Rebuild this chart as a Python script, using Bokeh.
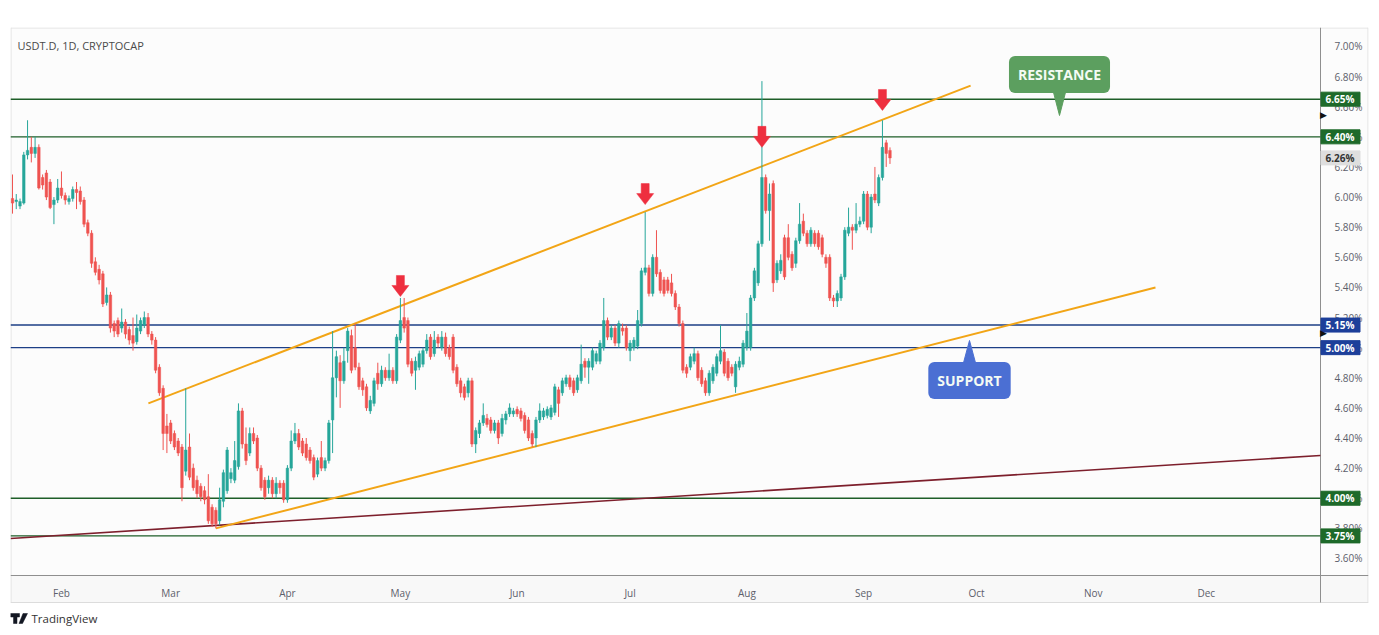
import pandas as pd
from bokeh.plotting import figure
from bokeh.models import (Range1d, FixedTicker, PrintfTickFormatter, DatetimeTickFormatter,
                          Label, ColumnDataSource)
from bokeh.core.properties import value
from bokeh.embed import file_html
from bokeh.resources import INLINE

# ---------------- data ----------------
FIRST_DAY = "2024-01-19"

opens = [5.99, 5.97, 5.94, 5.96, 6.28, 6.33, 6.29, 6.33, 6.13, 6.16, 6.10, 5.95, 5.98, 6.06, 6.01, 5.97, 5.99, 6.05, 6.04, 5.98,
         5.83, 5.76, 5.57, 5.52, 5.49, 5.30, 5.35, 5.16, 5.18, 5.13, 5.17, 5.12, 5.08, 5.04, 5.11, 5.15, 5.20, 5.09, 5.05, 4.87,
         4.73, 4.48, 4.50, 4.43, 4.38, 4.34, 4.18, 4.34, 4.20, 4.12, 4.08, 4.05, 4.01, 3.94, 3.92, 3.85, 3.98, 4.05, 4.13, 4.12,
         4.21, 4.58, 4.36, 4.30, 4.43, 4.40, 4.20, 4.12, 4.07, 4.12, 4.03, 4.10, 4.10, 3.99, 4.20, 4.38, 4.43, 4.38, 4.36, 4.32,
         4.27, 4.16, 4.27, 4.20, 4.25, 4.52, 4.80, 4.90, 4.78, 4.98, 5.08, 5.00, 4.87, 4.78, 4.74, 4.58, 4.63, 4.83, 4.76, 4.85,
         4.80, 4.85, 4.78, 5.05, 5.20, 5.18, 4.91, 4.85, 4.87, 4.89, 4.98, 5.07, 4.96, 5.07, 5.00, 5.07, 5.00, 5.07, 4.87, 4.78,
         4.74, 4.70, 4.78, 4.36, 4.43, 4.50, 4.53, 4.52, 4.45, 4.50, 4.43, 4.52, 4.56, 4.56, 4.59, 4.58, 4.55, 4.52, 4.43, 4.40,
         4.52, 4.54, 4.55, 4.54, 4.57, 4.72, 4.70, 4.76, 4.80, 4.78, 4.72, 4.78, 4.91, 4.87, 4.87, 4.91, 4.91, 5.00, 5.18, 5.07,
         5.13, 5.03, 5.13, 5.13, 4.98, 5.00, 5.01, 5.16, 5.50, 5.53, 5.36, 5.60, 5.50, 5.45, 5.45, 5.43, 5.36, 5.27, 5.16, 4.87,
         4.87, 4.91, 4.96, 4.85, 4.78, 4.70, 4.78, 4.83, 4.91, 4.97, 4.91, 4.87, 4.74, 4.87, 4.89, 5.00, 5.00, 5.33, 5.43, 5.69,
         6.13, 5.91, 6.09, 5.45, 5.51, 5.73, 5.73, 5.62, 5.56, 5.71, 5.84, 5.76, 5.69, 5.76, 5.76, 5.73, 5.60, 5.60, 5.33, 5.31,
         5.33, 5.47, 5.76, 5.80, 5.78, 5.82, 5.84, 6.02, 5.80, 6.02, 5.96, 6.13, 6.36, 6.31]
highs = [6.15, 6.02, 5.99, 6.30, 6.51, 6.40, 6.40, 6.35, 6.15, 6.18, 6.12, 6.00, 6.12, 6.17, 6.03, 6.01, 6.07, 6.10, 6.07, 6.00,
         5.85, 5.78, 5.60, 5.55, 5.51, 5.40, 5.37, 5.18, 5.20, 5.26, 5.19, 5.14, 5.20, 5.22, 5.20, 5.24, 5.23, 5.11, 5.07, 4.89,
         4.75, 4.56, 4.52, 4.45, 4.40, 4.36, 4.73, 4.43, 4.23, 4.15, 4.10, 4.08, 4.16, 3.96, 3.94, 4.07, 4.19, 4.34, 4.20, 4.38,
         4.63, 4.60, 4.47, 4.47, 4.47, 4.42, 4.22, 4.14, 4.15, 4.14, 4.14, 4.12, 4.12, 4.22, 4.45, 4.50, 4.46, 4.40, 4.40, 4.34,
         4.29, 4.27, 4.38, 4.27, 4.52, 5.11, 4.98, 4.95, 5.00, 5.13, 5.12, 5.16, 4.90, 4.80, 4.76, 4.68, 4.80, 4.90, 4.88, 4.87,
         4.96, 4.87, 5.09, 5.33, 5.33, 5.20, 4.93, 4.94, 4.98, 5.00, 5.09, 5.09, 5.11, 5.09, 5.11, 5.10, 5.02, 5.09, 4.89, 4.80,
         4.76, 4.80, 4.80, 4.47, 4.52, 4.63, 4.56, 4.54, 4.52, 4.52, 4.56, 4.58, 4.63, 4.60, 4.61, 4.60, 4.57, 4.54, 4.45, 4.54,
         4.63, 4.60, 4.61, 4.62, 4.76, 4.74, 4.80, 4.82, 4.82, 4.80, 4.82, 5.02, 4.93, 4.93, 5.00, 4.98, 5.05, 5.33, 5.20, 5.15,
         5.15, 5.18, 5.16, 5.15, 5.05, 5.07, 5.25, 5.53, 5.90, 5.55, 5.62, 5.78, 5.52, 5.47, 5.47, 5.49, 5.38, 5.29, 5.18, 4.89,
         4.96, 5.00, 4.98, 4.87, 4.80, 4.85, 4.89, 4.96, 5.15, 4.99, 4.93, 4.89, 4.91, 4.94, 5.05, 5.23, 5.35, 5.53, 5.71, 6.77,
         6.15, 6.09, 6.11, 5.58, 5.62, 5.75, 5.82, 5.64, 5.73, 5.96, 5.89, 5.78, 5.80, 5.78, 5.78, 5.75, 5.62, 5.62, 5.35, 5.38,
         5.49, 5.80, 5.93, 5.82, 5.96, 5.87, 6.04, 6.04, 6.02, 6.20, 6.15, 6.51, 6.38, 6.33]
lows = [5.89, 5.92, 5.92, 5.95, 6.25, 6.23, 6.26, 6.05, 6.05, 5.98, 5.92, 5.82, 5.96, 5.99, 5.95, 5.95, 5.97, 5.92, 5.95, 5.80,
        5.74, 5.53, 5.48, 5.42, 5.27, 5.28, 5.10, 5.07, 5.07, 5.10, 5.06, 5.02, 4.98, 5.02, 5.09, 5.13, 5.07, 5.02, 4.83, 4.68,
        4.32, 4.30, 4.36, 4.32, 4.28, 3.98, 4.15, 4.12, 4.05, 4.00, 3.98, 3.96, 3.83, 3.81, 3.80, 3.82, 3.94, 4.03, 4.10, 4.10,
        4.19, 4.33, 4.22, 4.28, 4.36, 4.18, 4.05, 3.99, 4.03, 4.00, 4.00, 4.03, 3.97, 3.97, 4.18, 4.36, 4.32, 4.28, 4.25, 4.23,
        4.12, 4.14, 4.18, 4.18, 4.23, 4.30, 4.67, 4.60, 4.76, 4.90, 4.83, 4.85, 4.72, 4.68, 4.58, 4.56, 4.61, 4.72, 4.74, 4.78,
        4.78, 4.76, 4.76, 5.03, 5.10, 4.87, 4.81, 4.72, 4.85, 4.87, 4.96, 4.92, 4.94, 5.00, 4.98, 4.94, 4.92, 4.83, 4.74, 4.67,
        4.65, 4.67, 4.34, 4.30, 4.40, 4.48, 4.47, 4.43, 4.43, 4.36, 4.41, 4.49, 4.54, 4.54, 4.54, 4.51, 4.43, 4.38, 4.34, 4.34,
        4.50, 4.52, 4.53, 4.52, 4.55, 4.54, 4.68, 4.74, 4.72, 4.68, 4.70, 4.76, 4.80, 4.76, 4.85, 4.89, 4.89, 4.98, 5.05, 5.05,
        5.01, 5.00, 5.08, 4.98, 4.91, 4.98, 4.99, 5.14, 5.48, 5.34, 5.34, 5.47, 5.36, 5.34, 5.36, 5.34, 5.25, 5.14, 4.83, 4.80,
        4.85, 4.89, 4.78, 4.74, 4.68, 4.68, 4.76, 4.81, 4.89, 4.81, 4.78, 4.81, 4.70, 4.85, 4.87, 4.98, 4.98, 5.31, 5.41, 5.67,
        5.89, 5.71, 5.37, 5.43, 5.49, 5.45, 5.58, 5.51, 5.53, 5.69, 5.74, 5.67, 5.67, 5.67, 5.65, 5.60, 5.53, 5.31, 5.27, 5.27,
        5.31, 5.45, 5.74, 5.65, 5.76, 5.80, 5.82, 5.78, 5.76, 5.96, 5.94, 6.11, 6.20, 6.22]
closes = [5.96, 5.98, 5.97, 6.28, 6.31, 6.29, 6.33, 6.06, 6.08, 6.00, 5.93, 5.98, 6.06, 6.01, 5.98, 5.99, 6.05, 6.03, 5.97, 5.82,
          5.76, 5.56, 5.50, 5.45, 5.29, 5.35, 5.13, 5.11, 5.09, 5.17, 5.09, 5.05, 5.03, 5.13, 5.18, 5.20, 5.09, 5.05, 4.85, 4.70,
          4.43, 4.43, 4.38, 4.34, 4.30, 4.07, 4.32, 4.14, 4.07, 4.03, 4.01, 3.99, 3.85, 3.83, 3.83, 3.99, 4.17, 4.32, 4.17, 4.25,
          4.58, 4.36, 4.25, 4.43, 4.38, 4.20, 4.07, 4.01, 4.12, 4.03, 4.10, 4.07, 3.99, 4.20, 4.38, 4.43, 4.34, 4.30, 4.27, 4.25,
          4.14, 4.25, 4.20, 4.25, 4.50, 4.80, 4.94, 4.78, 4.91, 5.11, 4.85, 4.87, 4.74, 4.72, 4.60, 4.65, 4.78, 4.76, 4.85, 4.80,
          4.85, 4.78, 5.07, 5.18, 5.13, 4.89, 4.83, 4.91, 4.96, 4.98, 5.05, 4.94, 5.05, 5.03, 5.07, 4.96, 4.94, 4.85, 4.76, 4.70,
          4.67, 4.78, 4.36, 4.45, 4.50, 4.55, 4.49, 4.45, 4.50, 4.40, 4.53, 4.56, 4.60, 4.58, 4.56, 4.53, 4.45, 4.40, 4.36, 4.52,
          4.58, 4.58, 4.59, 4.60, 4.74, 4.63, 4.78, 4.80, 4.74, 4.70, 4.80, 4.89, 4.87, 4.91, 4.98, 4.96, 5.03, 5.18, 5.07, 5.13,
          5.03, 5.16, 5.11, 5.00, 5.03, 5.05, 5.18, 5.51, 5.53, 5.36, 5.60, 5.49, 5.38, 5.36, 5.38, 5.36, 5.27, 5.16, 4.85, 4.83,
          4.94, 4.96, 4.80, 4.76, 4.70, 4.83, 4.87, 4.94, 4.98, 4.83, 4.80, 4.83, 4.89, 4.91, 5.03, 5.11, 5.33, 5.51, 5.69, 6.13,
          5.91, 6.02, 5.43, 5.56, 5.58, 5.47, 5.60, 5.53, 5.71, 5.82, 5.76, 5.69, 5.78, 5.69, 5.67, 5.62, 5.56, 5.33, 5.31, 5.36,
          5.47, 5.78, 5.80, 5.78, 5.82, 5.84, 6.02, 5.80, 6.00, 5.98, 6.13, 6.33, 6.29, 6.26]

month_ticks = ["2024-02-01", "2024-03-01", "2024-04-01", "2024-05-01", "2024-06-01", "2024-07-01",
               "2024-08-01", "2024-09-01", "2024-10-01", "2024-11-01", "2024-12-01"]
price_ticks = [3.60, 3.80, 4.00, 4.20, 4.40, 4.60, 4.80, 5.00, 5.20, 5.40, 5.60, 5.80,
               6.00, 6.20, 6.40, 6.60, 6.80, 7.00]

# horizontal levels
green_levels = [6.65, 6.40, 4.00, 3.75]
blue_levels = [5.15, 5.00]
last_price = 6.26

# trend lines (two anchor points each)
upper_trend_dates = ["2024-02-24 02:00", "2024-09-29 10:00"]
upper_trend_values = [4.63, 6.74]
lower_trend_dates = ["2024-03-13 00:00", "2024-11-17 12:00"]
lower_trend_values = [3.80, 5.40]
long_trend_dates = ["2024-01-18 12:00", "2024-12-31 07:00"]
long_trend_values = [3.733, 4.284]

# rejection arrows (date, value at arrow tip)
arrow_dates = ["2024-05-01", "2024-07-05", "2024-08-05", "2024-09-06"]
arrow_values = [5.34, 5.95, 6.33, 6.575]

# ---------------- layout helpers (pixels of the 1379x635 page) ----------------
W, H = 1379, 635
FL, FR, FT, FB = 10, 1368, 27, 635      # plotting frame; price/time scales are drawn inside it
AX, AY = 1320, 575                       # border of price scale / time scale
BOX_BOTTOM = 602                         # bottom of the chart box
PPD = 3.766                              # pixels per day
PPU = 150.59                             # pixels per 1 %
X0 = pd.Timestamp(FIRST_DAY) - pd.Timedelta(days=0.53)
X1 = X0 + pd.Timedelta(days=(FR - FL) / PPD)
Y_TOP = 7.126
Y_BOT = Y_TOP - (FB - FT) / PPU
MS_DAY = 86400000.0


def ms(ts):
    return pd.Timestamp(ts).value / 1e6


def px_x(px):
    return ms(X0) + (px - FL) / PPD * MS_DAY


def px_y(py):
    return Y_TOP - (py - FT) / PPU


def dxp(px):   # pixel length -> ms
    return px / PPD * MS_DAY


def dyp(py):   # pixel length -> value
    return py / PPU


dates = pd.date_range(FIRST_DAY, periods=len(closes), freq="D")
UP, DOWN = "#26a69a", "#ef5350"
cols = [UP if c >= o else DOWN for o, c in zip(opens, closes)]
src = ColumnDataSource(dict(
    x=dates, o=opens, h=highs, l=lows, c=closes,
    top=[max(o, c) for o, c in zip(opens, closes)],
    bot=[min(o, c) for o, c in zip(opens, closes)],
    col=cols))

p = figure(width=W, height=H, x_axis_type="datetime", y_axis_location="right",
           x_range=Range1d(X0, X1), y_range=Range1d(Y_BOT, Y_TOP),
           toolbar_location=None, output_backend="svg",
           min_border_left=FL, min_border_right=W - FR, min_border_top=FT, min_border_bottom=0)
p.background_fill_color = "#ffffff"
p.border_fill_color = "#ffffff"
p.outline_line_color = None
p.xgrid.visible = False
p.ygrid.visible = False

# chart area background (slightly off-white) and time-scale strip
p.quad(left=[px_x(FL), px_x(FL)], right=[px_x(FR), px_x(FR)], top=[px_y(FT), px_y(AY)],
       bottom=[px_y(AY), px_y(BOX_BOTTOM)], fill_color=["#fcfcfc", "#f8f8f8"], line_color=None, level="underlay")

# price scale: labels pulled back into the price-scale column
p.yaxis.ticker = FixedTicker(ticks=price_ticks)
p.yaxis.formatter = PrintfTickFormatter(format="%.2f%%")
p.yaxis.major_label_text_font = "Open Sans"
p.yaxis.major_label_text_font_size = "10px"
p.yaxis.major_label_text_color = "#5d606b"
p.yaxis.major_tick_line_color = None
p.yaxis.minor_tick_line_color = None
p.yaxis.axis_line_color = None
p.yaxis.major_label_standoff = -(FR - AX - 8)

# time scale: labels pulled up into the time-scale strip
p.xaxis.ticker = FixedTicker(ticks=[ms(t) for t in month_ticks])
p.xaxis.formatter = DatetimeTickFormatter(days="%b", months="%b", years="%b", hours="%b",
                                          minutes="%b", seconds="%b", milliseconds="%b", microseconds="%b",
                                          hourmin="%b", minsec="%b")
p.xaxis.major_label_text_font = "Open Sans"
p.xaxis.major_label_text_font_size = "10px"
p.xaxis.major_label_text_color = "#5d606b"
p.xaxis.major_tick_line_color = None
p.xaxis.minor_tick_line_color = None
p.xaxis.axis_line_color = None
p.xaxis.major_label_standoff = -(FB - AY - 4)

# chart box borders
bx0 = [px_x(FL + 0.5), px_x(FL + 0.5), px_x(FR - 0.5), px_x(FL), px_x(FL), px_x(AX)]
bx1 = [px_x(FR - 0.5), px_x(FL + 0.5), px_x(FR - 0.5), px_x(FR), px_x(FR), px_x(AX)]
by0 = [px_y(FT + 0.5), px_y(FT), px_y(FT), px_y(AY), px_y(BOX_BOTTOM), px_y(FT)]
by1 = [px_y(FT + 0.5), px_y(BOX_BOTTOM), px_y(BOX_BOTTOM), px_y(AY), px_y(BOX_BOTTOM), px_y(BOX_BOTTOM)]
p.segment(x0=bx0, y0=by0, x1=bx1, y1=by1,
          line_color=["#e0e0e0", "#e0e0e0", "#e0e0e0", "#8f8f8f", "#dcdcdc", "#8f8f8f"], line_width=1)

# horizontal levels (stop at the price scale)
x_left, x_right = px_x(FL), px_x(AX)
p.segment(x0=[x_left] * len(green_levels), x1=[x_right] * len(green_levels), y0=green_levels, y1=green_levels,
          line_color="#1e5e28", line_width=1.4)
p.segment(x0=[x_left] * len(blue_levels), x1=[x_right] * len(blue_levels), y0=blue_levels, y1=blue_levels,
          line_color="#1d3f86", line_width=1.4)

# trend lines
p.line(x=[pd.Timestamp(d) for d in long_trend_dates], y=long_trend_values, line_color="#7d1f2c", line_width=1.6)
p.line(x=[pd.Timestamp(d) for d in upper_trend_dates], y=upper_trend_values, line_color="#f2a516", line_width=2)
p.line(x=[pd.Timestamp(d) for d in lower_trend_dates], y=lower_trend_values, line_color="#f2a516", line_width=2)

# candles
p.segment(x0="x", y0="h", x1="x", y1="l", color="col", line_width=1, source=src)
p.vbar(x="x", width=0.68 * MS_DAY, top="top", bottom="bot", fill_color="col", line_color="col",
       line_width=0.5, source=src)

# arrows
axs, ays = [], []
for d, v in zip(arrow_dates, arrow_values):
    xc = ms(d)
    axs.append([xc - dxp(4), xc + dxp(4), xc + dxp(4), xc + dxp(8.5), xc, xc - dxp(8.5), xc - dxp(4)])
    ays.append([v + dyp(21), v + dyp(21), v + dyp(11), v + dyp(11), v, v + dyp(11), v + dyp(11)])
p.patches(xs=axs, ys=ays, fill_color="#ee2f3f", line_color="#ee2f3f", line_width=0.5)


# callouts
def callout(text, cx, cy, tip_x, tip_y, base_y, color):
    p.patch(x=[px_x(tip_x - 7), px_x(tip_x + 7), px_x(tip_x)],
            y=[px_y(base_y), px_y(base_y), px_y(tip_y)], fill_color=color, line_color=color)
    p.add_layout(Label(x=px_x(cx), y=px_y(cy), text=text, text_align="center", text_baseline="middle",
                       text_font="Open Sans", text_font_style="bold", text_font_size="14px",
                       text_color="#f4fbf4", background_fill_color=color, background_fill_alpha=1.0,
                       padding=9, border_radius=6))


callout("RESISTANCE", 1059, 74, 1059, 115, 88, "#5c9f5f")
callout("SUPPORT", 969, 380, 969, 340, 366, "#4b6fd3")

# price boxes on the price scale (drawn above the scale labels)
box_vals = green_levels + blue_levels + [last_price]
box_fill = ["#1e6a2a"] * len(green_levels) + ["#1d3f9a"] * len(blue_levels) + ["#dedede"]
box_text = ["#ffffff"] * (len(green_levels) + len(blue_levels)) + ["#333333"]
p.rect(x=[px_x(AX + 20)] * len(box_vals), y=box_vals, width=39, height=14,
       width_units="screen", height_units="screen", fill_color=box_fill, line_color=box_fill, level="overlay")
p.text(x=[px_x(AX + 5)] * len(box_vals), y=box_vals, text=["%.2f%%" % v for v in box_vals],
       text_align="left", text_baseline="middle", text_font=value("Open Sans"), text_font_style="bold",
       text_font_size="10px", text_color=box_text, level="overlay")

# small pointers on the price scale
p.text(x=[px_x(AX - 1)] * 2, y=[px_y(114), px_y(332)], text=["\u25b6", "\u25b6"], text_align="left",
       text_baseline="middle", text_font_size="9px", text_color="#111111", level="overlay")

# title
p.add_layout(Label(x=px_x(17), y=px_y(45), text="USDT.D, 1D, CRYPTOCAP", text_align="left",
                   text_baseline="middle", text_font="Open Sans", text_font_size="11px", text_color="#4a4a4a"))

# footer: logo + name
logo_xs = [[px_x(10), px_x(19), px_x(19), px_x(16.5), px_x(16.5), px_x(13), px_x(13), px_x(10)],
           [px_x(22.5), px_x(27), px_x(22), px_x(18.5)]]
logo_ys = [[px_y(613), px_y(613), px_y(616.5), px_y(616.5), px_y(623), px_y(623), px_y(616.5), px_y(616.5)],
           [px_y(613), px_y(613), px_y(623), px_y(623)]]
p.patches(xs=logo_xs, ys=logo_ys, fill_color="#131722", line_color="#131722", line_width=0.5)
p.add_layout(Label(x=px_x(31), y=px_y(618), text="TradingView", text_align="left", text_baseline="middle",
                   text_font="Open Sans", text_font_size="11.5px", text_color="#333333"))

open("out.html", "w").write(file_html(p, INLINE))
